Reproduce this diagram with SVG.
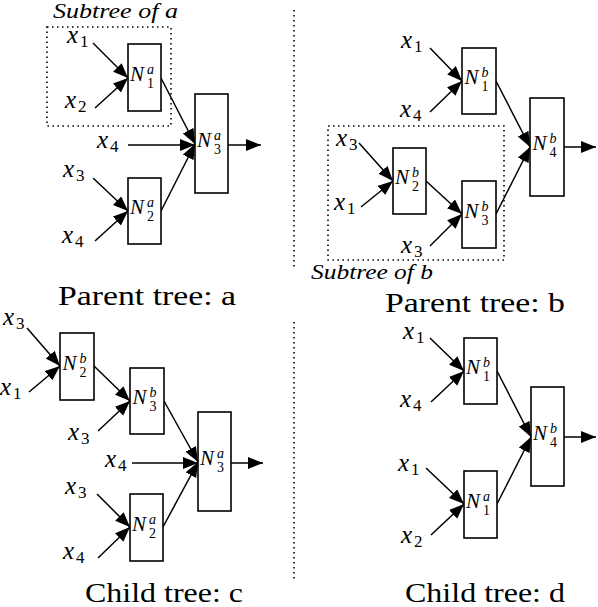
<svg xmlns="http://www.w3.org/2000/svg" width="598" height="607" viewBox="0 0 598 607" font-family="'Liberation Serif', Tinos, 'Times New Roman', 'DejaVu Serif', serif">
<style>
.box{fill:#fff;stroke:#000;stroke-width:1.6}
.e{stroke:#000;stroke-width:1.5;fill:none;marker-end:url(#ah)}
.dot{stroke:#000;stroke-width:1.6;fill:none;stroke-dasharray:1.5 3.5}
text{font-family:'Liberation Serif', Tinos, 'Times New Roman', 'DejaVu Serif', serif}
.N{font-style:italic;font-size:21px}
.sp{font-style:italic;font-size:14px}
.sb{font-size:14px}
.xv{font-style:italic;font-size:25px}
.xs{font-size:17px}
.t{font-size:28px}
.st{font-style:italic;font-size:20px}
</style>
<defs>
<marker id="ah" markerUnits="userSpaceOnUse" markerWidth="16" markerHeight="13" refX="15" refY="6" orient="auto">
<path d="M0,0 L15,6 L0,12 Z" fill="#000"/>
</marker>
</defs>
<rect width="598" height="607" fill="#fff"/>

<g id="separators">
<line class="dot" x1="294" y1="10" x2="294" y2="270"/>
<line class="dot" x1="294" y1="322" x2="294" y2="582"/>
<rect class="dot" x="47" y="27" width="124" height="99"/>
<rect class="dot" x="328" y="126" width="176" height="134"/>
<text class="st" x="53" y="18" textLength="125" lengthAdjust="spacingAndGlyphs">Subtree of a</text>
<text class="st" x="311" y="279" textLength="122" lengthAdjust="spacingAndGlyphs">Subtree of b</text>
</g>

<g id="connectors">
<line class="e" x1="93" y1="43" x2="128" y2="78"/>
<line class="e" x1="95" y1="108" x2="128" y2="78"/>
<line class="e" x1="161" y1="78" x2="195" y2="144"/>
<line class="e" x1="128" y1="145" x2="195" y2="145"/>
<line class="e" x1="93" y1="178" x2="128" y2="211"/>
<line class="e" x1="95" y1="241" x2="128" y2="211"/>
<line class="e" x1="161" y1="211" x2="195" y2="144"/>
<line class="e" x1="228" y1="145" x2="261" y2="145"/>

<line class="e" x1="430" y1="48" x2="462" y2="81"/>
<line class="e" x1="430" y1="112" x2="462" y2="81"/>
<line class="e" x1="496" y1="81" x2="530" y2="147"/>
<line class="e" x1="359" y1="143" x2="393" y2="181"/>
<line class="e" x1="361" y1="207" x2="393" y2="181"/>
<line class="e" x1="426" y1="181" x2="462" y2="214"/>
<line class="e" x1="430" y1="246" x2="462" y2="214"/>
<line class="e" x1="496" y1="214" x2="530" y2="147"/>
<line class="e" x1="564" y1="147" x2="596" y2="147"/>

<line class="e" x1="27" y1="328" x2="60" y2="366"/>
<line class="e" x1="29" y1="392" x2="60" y2="366"/>
<line class="e" x1="94" y1="366" x2="130" y2="401"/>
<line class="e" x1="98" y1="431" x2="130" y2="401"/>
<line class="e" x1="164" y1="401" x2="198" y2="462"/>
<line class="e" x1="132" y1="463" x2="198" y2="463"/>
<line class="e" x1="97" y1="494" x2="130" y2="527"/>
<line class="e" x1="98" y1="558" x2="130" y2="527"/>
<line class="e" x1="163" y1="527" x2="198" y2="462"/>
<line class="e" x1="231" y1="463" x2="263" y2="463"/>

<line class="e" x1="430" y1="338" x2="464" y2="371"/>
<line class="e" x1="431" y1="402" x2="464" y2="371"/>
<line class="e" x1="497" y1="371" x2="531" y2="437"/>
<line class="e" x1="426" y1="468" x2="464" y2="504"/>
<line class="e" x1="431" y1="535" x2="464" y2="504"/>
<line class="e" x1="497" y1="504" x2="531" y2="437"/>
<line class="e" x1="564" y1="437" x2="596" y2="437"/>
</g>

<!-- Parent tree a -->
<g id="a-N1">
<rect class="box" x="128" y="44" width="33" height="67"/>
<text class="N" x="130" y="80.5">N</text><text class="sp" x="147" y="73.5">a</text><text class="sb" x="147" y="87.5">1</text>
</g>
<g id="a-N3">
<rect class="box" x="195" y="94" width="33" height="99"/>
<text class="N" x="197" y="146.5">N</text><text class="sp" x="214" y="139.5">a</text><text class="sb" x="214" y="153.5">3</text>
</g>
<g id="a-N2">
<rect class="box" x="128" y="178" width="33" height="66"/>
<text class="N" x="130" y="214">N</text><text class="sp" x="147" y="207">a</text><text class="sb" x="147" y="221">2</text>
</g>
<g id="a-inputs">
<text class="xv" x="67" y="43">x</text><text class="xs" x="80" y="47">1</text>
<text class="xv" x="65" y="108">x</text><text class="xs" x="78" y="112">2</text>
<text class="xv" x="97" y="148">x</text><text class="xs" x="110" y="152">4</text>
<text class="xv" x="63" y="177">x</text><text class="xs" x="76" y="181">3</text>
<text class="xv" x="62" y="243">x</text><text class="xs" x="75" y="247">4</text>
</g>
<text class="t" x="58" y="305" textLength="178" lengthAdjust="spacingAndGlyphs">Parent tree: a</text>

<!-- Parent tree b -->
<g id="b-N1">
<rect class="box" x="462" y="48" width="34" height="66"/>
<text class="N" x="464.5" y="84">N</text><text class="sp" x="481.5" y="77">b</text><text class="sb" x="481.5" y="91">1</text>
</g>
<g id="b-N4">
<rect class="box" x="530" y="98" width="34" height="98"/>
<text class="N" x="532.5" y="150">N</text><text class="sp" x="549.5" y="143">b</text><text class="sb" x="549.5" y="157">4</text>
</g>
<g id="b-N2">
<rect class="box" x="393" y="148" width="33" height="66"/>
<text class="N" x="395" y="184">N</text><text class="sp" x="412" y="177">b</text><text class="sb" x="412" y="191">2</text>
</g>
<g id="b-N3">
<rect class="box" x="462" y="181" width="34" height="67"/>
<text class="N" x="464.5" y="217.5">N</text><text class="sp" x="481.5" y="210.5">b</text><text class="sb" x="481.5" y="224.5">3</text>
</g>
<g id="b-inputs">
<text class="xv" x="401" y="48">x</text><text class="xs" x="414" y="52">1</text>
<text class="xv" x="400" y="117">x</text><text class="xs" x="413" y="121">4</text>
<text class="xv" x="336" y="146">x</text><text class="xs" x="349" y="150">3</text>
<text class="xv" x="334" y="210">x</text><text class="xs" x="347" y="214">1</text>
<text class="xv" x="401" y="253">x</text><text class="xs" x="414" y="257">3</text>
</g>
<text class="t" x="385" y="312" textLength="180" lengthAdjust="spacingAndGlyphs">Parent tree: b</text>

<!-- Child tree c -->
<g id="c-N2b">
<rect class="box" x="60" y="333" width="34" height="67"/>
<text class="N" x="62.5" y="369.5">N</text><text class="sp" x="79.5" y="362.5">b</text><text class="sb" x="79.5" y="376.5">2</text>
</g>
<g id="c-N3b">
<rect class="box" x="130" y="368" width="34" height="66"/>
<text class="N" x="132.5" y="404">N</text><text class="sp" x="149.5" y="397">b</text><text class="sb" x="149.5" y="411">3</text>
</g>
<g id="c-N3a">
<rect class="box" x="198" y="412" width="33" height="99"/>
<text class="N" x="200" y="464.5">N</text><text class="sp" x="217" y="457.5">a</text><text class="sb" x="217" y="471.5">3</text>
</g>
<g id="c-N2a">
<rect class="box" x="130" y="494" width="33" height="67"/>
<text class="N" x="132" y="530.5">N</text><text class="sp" x="149" y="523.5">a</text><text class="sb" x="149" y="537.5">2</text>
</g>
<g id="c-inputs">
<text class="xv" x="3" y="325">x</text><text class="xs" x="16" y="329">3</text>
<text class="xv" x="0" y="395">x</text><text class="xs" x="13" y="399">1</text>
<text class="xv" x="68" y="440">x</text><text class="xs" x="81" y="444">3</text>
<text class="xv" x="105" y="467">x</text><text class="xs" x="118" y="471">4</text>
<text class="xv" x="65" y="494">x</text><text class="xs" x="78" y="498">3</text>
<text class="xv" x="63" y="559">x</text><text class="xs" x="76" y="563">4</text>
</g>
<text class="t" x="85" y="602" textLength="158" lengthAdjust="spacingAndGlyphs">Child tree: c</text>

<!-- Child tree d -->
<g id="d-N1b">
<rect class="box" x="464" y="338" width="33" height="66"/>
<text class="N" x="466" y="374">N</text><text class="sp" x="483" y="367">b</text><text class="sb" x="483" y="381">1</text>
</g>
<g id="d-N4b">
<rect class="box" x="531" y="387" width="33" height="99"/>
<text class="N" x="533" y="439.5">N</text><text class="sp" x="550" y="432.5">b</text><text class="sb" x="550" y="446.5">4</text>
</g>
<g id="d-N1a">
<rect class="box" x="464" y="471" width="33" height="67"/>
<text class="N" x="466" y="507.5">N</text><text class="sp" x="483" y="500.5">a</text><text class="sb" x="483" y="514.5">1</text>
</g>
<g id="d-inputs">
<text class="xv" x="403" y="339">x</text><text class="xs" x="416" y="343">1</text>
<text class="xv" x="400" y="407">x</text><text class="xs" x="413" y="411">4</text>
<text class="xv" x="398" y="471">x</text><text class="xs" x="411" y="475">1</text>
<text class="xv" x="401" y="543">x</text><text class="xs" x="414" y="547">2</text>
</g>
<text class="t" x="405" y="602" textLength="160" lengthAdjust="spacingAndGlyphs">Child tree: d</text>
</svg>
